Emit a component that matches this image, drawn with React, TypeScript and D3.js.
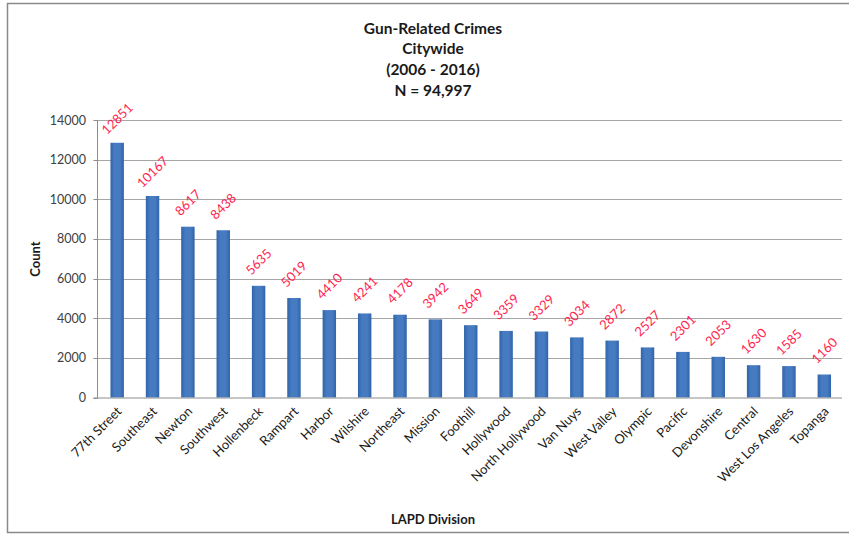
import React from "react";
import * as d3 from "d3";

const divisions = [
  "77th Street", "Southeast", "Newton", "Southwest", "Hollenbeck", "Rampart", "Harbor",
  "Wilshire", "Northeast", "Mission", "Foothill", "Hollywood", "North Hollywood", "Van Nuys",
  "West Valley", "Olympic", "Pacific", "Devonshire", "Central", "West Los Angeles", "Topanga",
];
const counts = [
  12851, 10167, 8617, 8438, 5635, 5019, 4410, 4241, 4178, 3942, 3649, 3359, 3329, 3034,
  2872, 2527, 2301, 2053, 1630, 1585, 1160,
];
const yTicks = [0, 2000, 4000, 6000, 8000, 10000, 12000, 14000];
const titleLines = ["Gun-Related Crimes", "Citywide", "(2006 - 2016)", "N = 94,997"];

const W = 849;
const H = 535;
const FONT = "Lato, 'Open Sans', sans-serif";

export default function App() {
  const x = d3.scaleBand<string>().domain(divisions).range([99.5, 842]).paddingInner(0.62).paddingOuter(0.31);
  const y = d3.scaleLinear().domain([0, 14000]).range([397.5, 120]);
  const axisX = 97.5;

  return (
    <svg width={W} height={H} style={{ position: "absolute", left: 0, top: 0, background: "#fff" }}>
      <defs>
        <linearGradient id="barGrad" x1="0" x2="1" y1="0" y2="0">
          <stop offset="0" stopColor="#2f64a8" />
          <stop offset="0.3" stopColor="#467bc2" />
          <stop offset="0.7" stopColor="#467bc2" />
          <stop offset="1" stopColor="#2f64a8" />
        </linearGradient>
      </defs>
      <rect x={7.5} y={3.5} width={W + 10} height={529} fill="#fff" stroke="#8a8a8a" strokeWidth={1.5} />

      {titleLines.map((t, i) => (
        <text key={t} x={433} y={33.5 + i * 20.7} textAnchor="middle" fontFamily={FONT} fontWeight="bold" fontSize={15.5} fill="#1a1a1a">
          {t}
        </text>
      ))}

      {/* gridlines and y ticks */}
      {yTicks.map((v) => (
        <g key={v}>
          {v > 0 && <line x1={axisX} x2={842} y1={Math.round(y(v)) + 0.5} y2={Math.round(y(v)) + 0.5} stroke="#a6a6a6" />}
          <line x1={axisX - 4} x2={axisX} y1={Math.round(y(v)) + 0.5} y2={Math.round(y(v)) + 0.5} stroke="#8c8c8c" />
          <text x={86} y={y(v) + 4.5} textAnchor="end" fontFamily={FONT} fontSize={12.5} fill="#404040">
            {v}
          </text>
        </g>
      ))}

      {/* bars */}
      {divisions.map((d, i) => (
        <rect key={d} x={x(d)} y={y(counts[i])} width={x.bandwidth()} height={y(0) - y(counts[i])} fill="url(#barGrad)" />
      ))}

      {/* axes */}
      <line x1={axisX} x2={axisX} y1={120} y2={398} stroke="#8c8c8c" />
      <line x1={axisX - 4} x2={842} y1={398} y2={398} stroke="#8c8c8c" />

      {/* value labels */}
      {divisions.map((d, i) => {
        const cx = (x(d) as number) + x.bandwidth() / 2;
        const cy = y(counts[i]) - 24;
        return (
          <text key={d} transform={`translate(${cx},${cy}) rotate(-45)`} textAnchor="middle" dy="0.35em" fontFamily={FONT} fontSize={13} fill="#ff1f4f">
            {counts[i]}
          </text>
        );
      })}

      {/* category labels */}
      {divisions.map((d) => {
        const cx = (x(d) as number) + x.bandwidth() / 2 + 2;
        return (
          <text key={d} transform={`translate(${cx},${409}) rotate(-45)`} textAnchor="end" dy="0.35em" fontFamily={FONT} fontSize={13} fill="#1a1a1a">
            {d}
          </text>
        );
      })}

      <text x={433} y={524} textAnchor="middle" fontFamily={FONT} fontWeight="bold" fontSize={13} fill="#1a1a1a">
        LAPD Division
      </text>
      <text transform={`translate(40,259) rotate(-90)`} textAnchor="middle" fontFamily={FONT} fontWeight="bold" fontSize={13} fill="#1a1a1a">
        Count
      </text>
    </svg>
  );
}
